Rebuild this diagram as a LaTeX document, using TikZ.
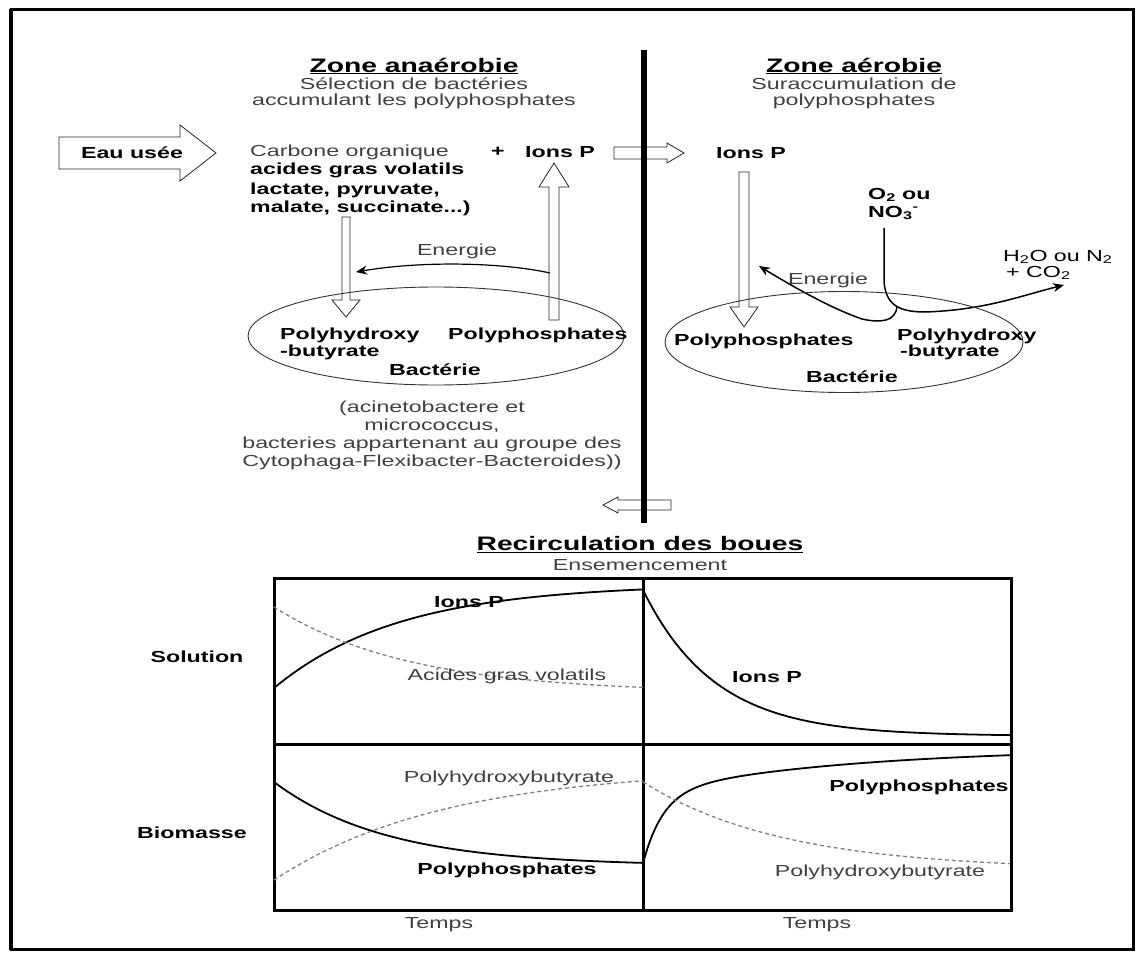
\documentclass[tikz,border=0pt]{standalone}
\usepackage{fontspec}
\setmainfont{Liberation Sans}[FakeStretch=1.45]
\usetikzlibrary{arrows.meta, calc, shapes.geometric}

\tikzset{
  txt/.style={inner sep=0pt, text=black!75, font=\fontsize{16}{18}\selectfont},
  btxt/.style={inner sep=0pt, text=black, font=\fontsize{16}{18}\selectfont\bfseries},
  headtxt/.style={inner sep=0pt, font=\fontsize{19.5}{22}\selectfont\bfseries},
  cell/.style={ellipse, draw=black!80, line width=0.9pt, inner sep=0pt},
  hollow/.style n args={3}{draw=black!85, fill=white, line width=0.8pt,
    to path={
      ($(\tikztostart)!#1!90:(\tikztotarget)$)
      -- ($(\tikztotarget)!#3!(\tikztostart)!#1!90:(\tikztotarget)$)
      -- ($(\tikztotarget)!#3!(\tikztostart)!#2!90:(\tikztotarget)$)
      -- (\tikztotarget)
      -- ($(\tikztotarget)!#3!(\tikztostart)!#2!-90:(\tikztotarget)$)
      -- ($(\tikztotarget)!#3!(\tikztostart)!#1!-90:(\tikztotarget)$)
      -- ($(\tikztostart)!#1!-90:(\tikztotarget)$)
      -- cycle}},
  energy/.style={line width=1.5pt, -{Stealth[length=11pt,width=9pt]}},
  curve/.style={line width=1.8pt},
  dcurve/.style={line width=1.3pt, gray, dash pattern=on 4pt off 3pt},
}

\begin{document}
\begin{tikzpicture}[x=1pt, y=-1pt]
\useasboundingbox (0,0) rectangle (1142,955);
\draw[line width=3pt] (11,10) rectangle (1133,949);
\draw[line width=2pt] (10,9) -- (10,950);

% Zone anaerobie
\node[headtxt] (zan) at (414,66) {\underline{Zone anaérobie}};
\node[txt] (zan1) at (414,84) {Sélection de bactéries};
\node[txt] (zan2) at (414,101) {accumulant les polyphosphates};

% Zone aerobie
\node[headtxt] (zae) at (854,66) {\underline{Zone aérobie}};
\node[txt] (zae1) at (854,84) {Suraccumulation de};
\node[txt] (zae2) at (854,101) {polyphosphates};

% Eau usee
\coordinate (eautail) at (59,153);
\coordinate (eautip) at (216,153);
\draw[hollow={16pt}{28pt}{36pt}] (eautail) to (eautip);
\node[btxt] (eau) at (132,153) {Eau usée};

\node[txt, anchor=west] (carb) at (250,152) {Carbone organique};
\node[btxt, anchor=west] (agv) at (250,170) {acides gras volatils};
\node[btxt, anchor=west] (lact) at (250,190) {lactate, pyruvate,};
\node[btxt, anchor=west] (mal) at (250,208) {malate, succinate...)};
\node[btxt] (plus) at (498,152) {+};
\node[btxt] (ionsl) at (560,152) {Ions P};

\coordinate (c1) at (346,217);
\coordinate (c2) at (346,317);
\draw[hollow={4pt}{14pt}{17pt}] (c1) to (c2);
\coordinate (p1) at (554,320);
\coordinate (p2) at (554,163);
\draw[hollow={5pt}{15pt}{24pt}] (p1) to (p2);

\node[txt] (enl) at (457,251) {Energie};
\coordinate (el1) at (550,273);
\coordinate (el2) at (356,272);
\draw[energy, line width=1.2pt] (el1) .. controls (500,262) and (420,261) .. (el2);

% bacterie (anaerobie)
\node[cell, minimum width=376pt, minimum height=98pt] (bacl) at (436,336) {};
\node[btxt, anchor=west] (phbl) at (280,335) {Polyhydroxy};
\node[btxt, anchor=west] (phbl2) at (280,352) {-butyrate};
\node[btxt, anchor=west] (ppl) at (448,335) {Polyphosphates};
\node[btxt] (bactl) at (435,370) {Bactérie};

\node[txt] (gen1) at (432,408) {(acinetobactere et};
\node[txt] (gen2) at (432,426) {micrococcus,};
\node[txt] (gen3) at (432,444) {bacteries appartenant au groupe des};
\node[txt] (gen4) at (432,462) {Cytophaga-Flexibacter-Bacteroides))};

% aerobie
\coordinate (i1) at (614,153);
\coordinate (i2) at (684,153);
\draw[hollow={6pt}{10pt}{17pt}] (i1) to (i2);
\node[btxt] (ionsr) at (751,153) {Ions P};
\coordinate (d1) at (744,172);
\coordinate (d2) at (744,327);
\draw[hollow={5pt}{14pt}{20pt}] (d1) to (d2);

\node[btxt, anchor=west] (o2) at (868,195) {O\textsubscript{2} ou};
\node[btxt, anchor=west] (no3) at (868,213) {NO\textsubscript{3}\textsuperscript{-}};
\node[txt, text=black, anchor=west] (h2o) at (1003,257) {H\textsubscript{2}O ou N\textsubscript{2}};
\node[txt, text=black, anchor=west] (co2) at (1006,273) {+ CO\textsubscript{2}};
\node[txt] (enr) at (828,280) {Energie};

\coordinate (ox) at (884,228);
\coordinate (outr) at (1064,285);
\coordinate (enrtip) at (759,266);
\draw[energy] (ox) -- (884,282) .. controls (886,302) and (895,312) .. (925,312)
  .. controls (985,310) and (1020,296) .. (outr);
\draw[energy] (897,306) .. controls (896,322) and (880,323) .. (862,319)
  .. controls (830,308) and (792,286) .. (enrtip);

\node[cell, minimum width=358pt, minimum height=101pt] (bacr) at (844,342) {};
\node[btxt, anchor=west] (ppr) at (674,341) {Polyphosphates};
\node[btxt, anchor=west] (phbr) at (897,336) {Polyhydroxy};
\node[btxt, anchor=west] (phbr2) at (900,352) {-butyrate};
\node[btxt] (bactr) at (852,377) {Bactérie};

% recirculation
\coordinate (r1) at (671,505);
\coordinate (r2) at (603,505);
\draw[hollow={5pt}{8pt}{15pt}] (r1) to (r2);
\coordinate (septop) at (644,50);
\coordinate (sepbot) at (644,523);
\draw[line width=6pt] (septop) -- (sepbot);

\node[headtxt] (recirc) at (640,545) {\underline{Recirculation des boues}};
\node[txt] (ensem) at (640,565) {Ensemencement};

% graphes
\draw[line width=3pt] (274,578) rectangle (1011,910);
\draw[line width=3pt] (643,578) -- (643,910);
\draw[line width=3pt] (274,744) -- (1011,744);

\node[btxt] (sol) at (197,657) {Solution};
\node[btxt] (bio) at (192,833) {Biomasse};
\node[txt] (t1) at (439,925) {Temps};
\node[txt] (t2) at (817,925) {Temps};

\draw[curve] plot[domain=0:369, samples=60] ({274+\x},{688-104*(1-exp(-\x/125))});
\draw[dcurve] plot[domain=0:369, samples=60] ({274+\x},{607+86*(1-exp(-\x/135))});
\draw[curve] plot[domain=0:367, samples=80] ({643+\x},{590+146*(1-exp(-\x/72))});
\draw[curve] plot[domain=0:369, samples=60] ({274+\x},{782+84*(1-exp(-\x/112))});
\draw[dcurve] plot[domain=0:369, samples=60] ({274+\x},{880-112*(1-exp(-\x/170))});
\draw[curve] plot[domain=0:367, samples=80] ({643+\x},{863-70*(1-exp(-\x/20))-45*(1-exp(-\x/200))});
\draw[dcurve] plot[domain=0:367, samples=60] ({643+\x},{782+88*(1-exp(-\x/140))});

\node[btxt] (gions1) at (469,602) {Ions P};
\node[txt] (gagv) at (507,676) {Acides gras volatils};
\node[btxt] (gions2) at (767,677) {Ions P};
\node[txt] (gphb1) at (509,778) {Polyhydroxybutyrate};
\node[btxt] (gpp1) at (507,870) {Polyphosphates};
\node[btxt] (gpp2) at (919,787) {Polyphosphates};
\node[txt] (gphb2) at (880,872) {Polyhydroxybutyrate};
\end{tikzpicture}
\end{document}
